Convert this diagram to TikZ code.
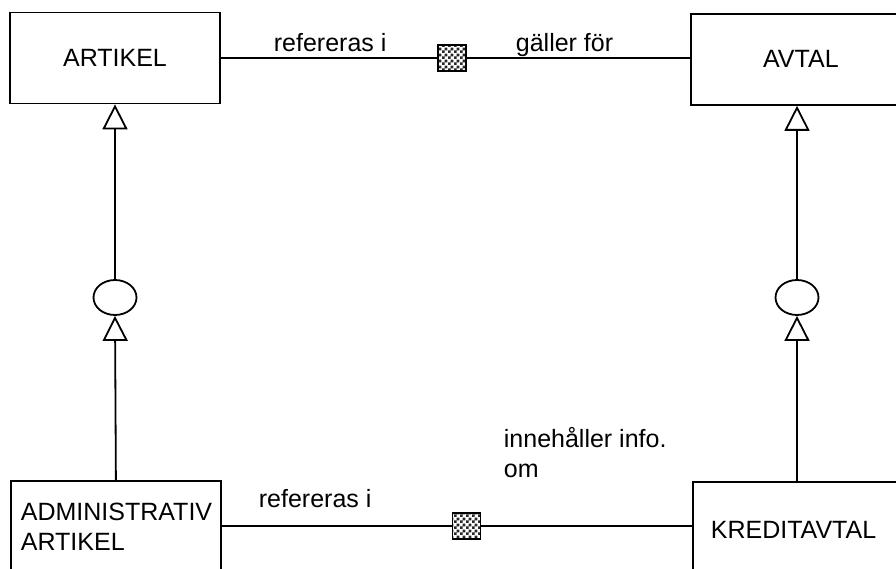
\documentclass[tikz,border=0pt]{standalone}
\usepackage{fontspec}
\setmainfont{Liberation Sans}
\usetikzlibrary{arrows.meta,shapes.geometric,patterns}
% fine checker fill for the relationship markers
\pgfdeclarepatternformonly{finechecker}{\pgfpointorigin}{\pgfpoint{5.6pt}{5.6pt}}{\pgfpoint{5.6pt}{5.6pt}}{%
  \pgfpathrectangle{\pgfpointorigin}{\pgfpoint{2.8pt}{2.8pt}}%
  \pgfpathrectangle{\pgfpoint{2.8pt}{2.8pt}}{\pgfpoint{2.8pt}{2.8pt}}%
  \pgfusepath{fill}}
\begin{document}
\begin{tikzpicture}[x=1pt,y=-1pt,
  line width=1.8pt,
  every node/.style={font=\fontsize{25}{30}\selectfont},
  entity/.style={draw, rectangle, inner sep=0pt},
  joint/.style={draw, ellipse, minimum width=43pt, minimum height=35pt, inner sep=0pt},
  relbox/.style={draw, rectangle, minimum width=28pt, minimum height=26pt, inner sep=0pt,
    pattern=finechecker, pattern color=black!85},
  lbl/.style={inner sep=0pt, anchor=base west, align=left},
  gen/.style={-{Triangle[open,length=25pt,width=25pt,fill=white]}}]
\useasboundingbox (0,0) rectangle (896,569);
\clip (0,0) rectangle (896,569);

% entity boxes
\node[entity, minimum width=210pt, minimum height=91pt] (art) at (115,58) {ARTIKEL};
\node[entity, anchor=north west, minimum width=220pt, minimum height=91pt] (avt) at (690,13) {AVTAL};
\node[entity, anchor=north west, minimum height=92pt, text width=190pt,
      inner xsep=10pt, align=left] (adm) at (10,480) {ADMINISTRATIV\\ARTIKEL};
\node[entity, anchor=north west, minimum height=95pt, text width=194pt,
      inner xsep=18pt, align=left] (kre) at (692,481) {KREDITAVTAL};

% subtype joints
\node[joint] (c1) at (115,297.5) {};
\node[joint] (c2) at (797,297.5) {};

% relationship markers
\node[relbox] (s1) at (452,58) {};
\node[relbox] (s2) at (466.5,526) {};

% generalisation links
\draw[gen] (c1.north) -- (art.south);
\draw[gen] (adm.north) -- (c1.south);
\draw[gen] (c2.north) -- (c2.north |- avt.south);
\draw[gen] (c2 |- kre.north) -- (c2.south);

% associations
\draw (art.east |- s1) -- (s1.west);
\draw (s1.east) -- (s1 -| avt.west);
\draw (adm.east |- s2) -- (s2.west);
\draw (s2.east) -- (s2 -| kre.west);

% role labels
\node[lbl] (r1) at (273,52) {refereras i};
\node[lbl] (r2) at (515,52) {gäller för};
\node[lbl] (r3) at (258,507) {refereras i};
\node[lbl] (r4) at (503,477) {innehåller info.\\om};
\end{tikzpicture}
\end{document}
